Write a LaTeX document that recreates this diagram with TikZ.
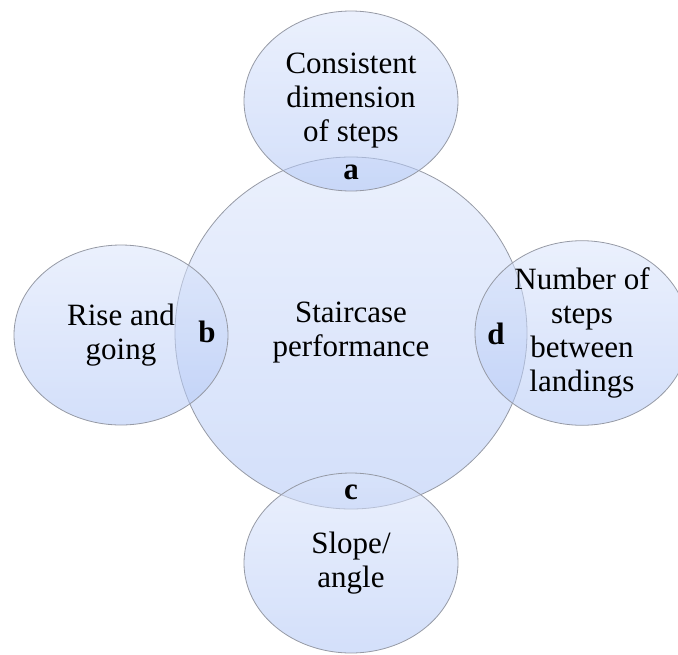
\documentclass[tikz,border=0pt]{standalone}
\usepackage{fontspec}
\setmainfont{Liberation Serif}
\usetikzlibrary{shapes.geometric}
\definecolor{bubbletop}{RGB}{218,228,251}
\definecolor{bubblebottom}{RGB}{175,197,245}
\definecolor{bubbleline}{RGB}{150,154,165}

\begin{document}
\begin{tikzpicture}[
    x=1pt, y=-1pt,
    bubble/.style={draw=bubbleline, line width=0.8pt, top color=bubbletop,
      bottom color=bubblebottom, fill opacity=0.55, text opacity=1,
      align=center, inner sep=0pt, font=\fontsize{31}{34}\selectfont},
    factor/.style={bubble, ellipse, minimum width=214pt, minimum height=180pt},
    tag/.style={font=\fontsize{31}{34}\selectfont\bfseries, inner sep=0pt}
  ]
  \clip (0,0) rectangle (678,654);
  % central circle
  \node[bubble, circle, minimum size=352pt] (perf) at (351,333) {Staircase\\performance};
  % factors around the circle
  \foreach \name/\x/\y/\txt in {top/351/101/{Consistent\\dimension\\of steps},
      left/121/335/{Rise and\\going}, bottom/351/563/{Slope/\\angle},
      right/582/333/{Number of\\steps\\between\\landings}}
    \node[factor] (\name) at (\x,\y) {\txt};
  % letters in the overlaps
  \foreach \name/\x/\y in {a/351/172, b/207/332, c/351/492, d/496/334}
    \node[tag] (tag-\name) at (\x,\y) {\name};
\end{tikzpicture}
\end{document}
